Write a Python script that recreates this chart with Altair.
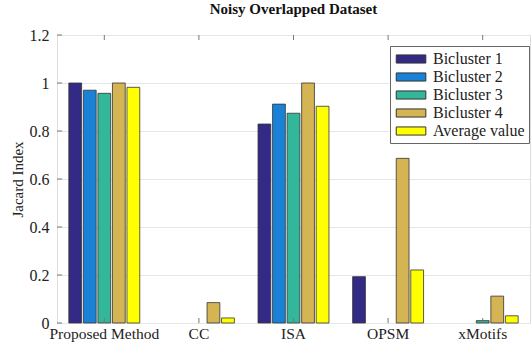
import altair as alt
import pandas as pd

methods = ["Proposed Method", "CC", "ISA", "OPSM", "xMotifs"]
series = ["Bicluster 1", "Bicluster 2", "Bicluster 3", "Bicluster 4", "Average value"]
colors = ["#332a86", "#1a82d6", "#33b79a", "#d4b453", "#ffff00"]

b1 = [1.0, 0.0, 0.829, 0.193, 0.0]
b2 = [0.97, 0.0, 0.912, 0.0, 0.0]
b3 = [0.957, 0.0, 0.874, 0.0, 0.01]
b4 = [1.0, 0.085, 1.0, 0.686, 0.112]
avg = [0.982, 0.021, 0.903, 0.221, 0.03]
yticks = [0, 0.2, 0.4, 0.6, 0.8, 1.0, 1.2]

rows = []
for s, vals in zip(series, [b1, b2, b3, b4, avg]):
    for m, v in zip(methods, vals):
        if v > 0:
            rows.append({"method": m, "series": s, "value": v})
df = pd.DataFrame(rows)
cats = pd.DataFrame({"method": methods})
yt = pd.DataFrame({"value": yticks})

FONT = "Liberation Serif"
W, H = 473, 288

xscale = alt.Scale(domain=methods, paddingInner=0.25, paddingOuter=0.125)
yscale = alt.Scale(domain=[0, 1.2], nice=False, zero=True)

bars = alt.Chart(df).mark_bar(stroke="#333333", strokeWidth=0.8).encode(
    x=alt.X("method:N", sort=methods, scale=xscale,
            axis=alt.Axis(title=None, labelAngle=0, grid=False, ticks=False, domain=False,
                          labelFont=FONT, labelFontSize=15.5, labelColor="#222222", labelPadding=3)),
    xOffset=alt.XOffset("series:N", sort=series,
                        scale=alt.Scale(domain=series, paddingInner=0.12, paddingOuter=0)),
    y=alt.Y("value:Q", scale=yscale,
            axis=alt.Axis(values=yticks, title="Jacard Index", grid=True, gridColor="#e6e6e6",
                          ticks=False, domain=False, labelFont=FONT, labelFontSize=16,
                          labelColor="#222222", labelPadding=8,
                          labelExpr="format(datum.value, '~g')",
                          titleFont=FONT, titleFontSize=15, titleFontWeight="normal",
                          titleColor="#222222", titlePadding=4)),
    color=alt.Color("series:N", sort=series, scale=alt.Scale(domain=series, range=colors),
                    legend=alt.Legend(title=None, orient="none", legendX=333, legendY=11,
                                      strokeColor="#666666", fillColor="white", padding=4,
                                      symbolType="M-0.8,-0.48H2.7V0.48H-0.8Z", symbolSize=286,
                                      symbolStrokeColor="#333333", symbolStrokeWidth=1,
                                      symbolOpacity=1, labelFont=FONT, labelFontSize=16,
                                      labelColor="#222222", rowPadding=1, labelOffset=21)),
)

top_ticks = alt.Chart(cats).mark_rule(color="#777777").encode(
    x=alt.X("method:N", sort=methods),
    y=alt.value(0), y2=alt.value(5))
bot_ticks = alt.Chart(cats).mark_rule(color="#777777").encode(
    x=alt.X("method:N", sort=methods),
    y=alt.value(H - 5), y2=alt.value(H))
left_ticks = alt.Chart(yt).mark_rule(color="#777777").encode(
    y=alt.Y("value:Q"),
    x=alt.value(0), x2=alt.value(5))

chart = alt.layer(bars, top_ticks, bot_ticks, left_ticks).properties(
    width=W, height=H,
    title=alt.TitleParams("Noisy Overlapped Dataset", font=FONT, fontSize=15, fontWeight="bold",
                          color="#111111", anchor="middle", offset=10),
    autosize=alt.AutoSizeParams(type="none"),
    padding={"left": 57, "top": 35, "right": 1, "bottom": 20},
).configure_view(stroke="#777777", strokeWidth=1).configure(
    background="white", font=FONT
).configure_axis(labelFont=FONT, titleFont=FONT).configure_legend(labelFont=FONT)

chart.save("out.html", embed_options={"renderer": "svg", "actions": False})
